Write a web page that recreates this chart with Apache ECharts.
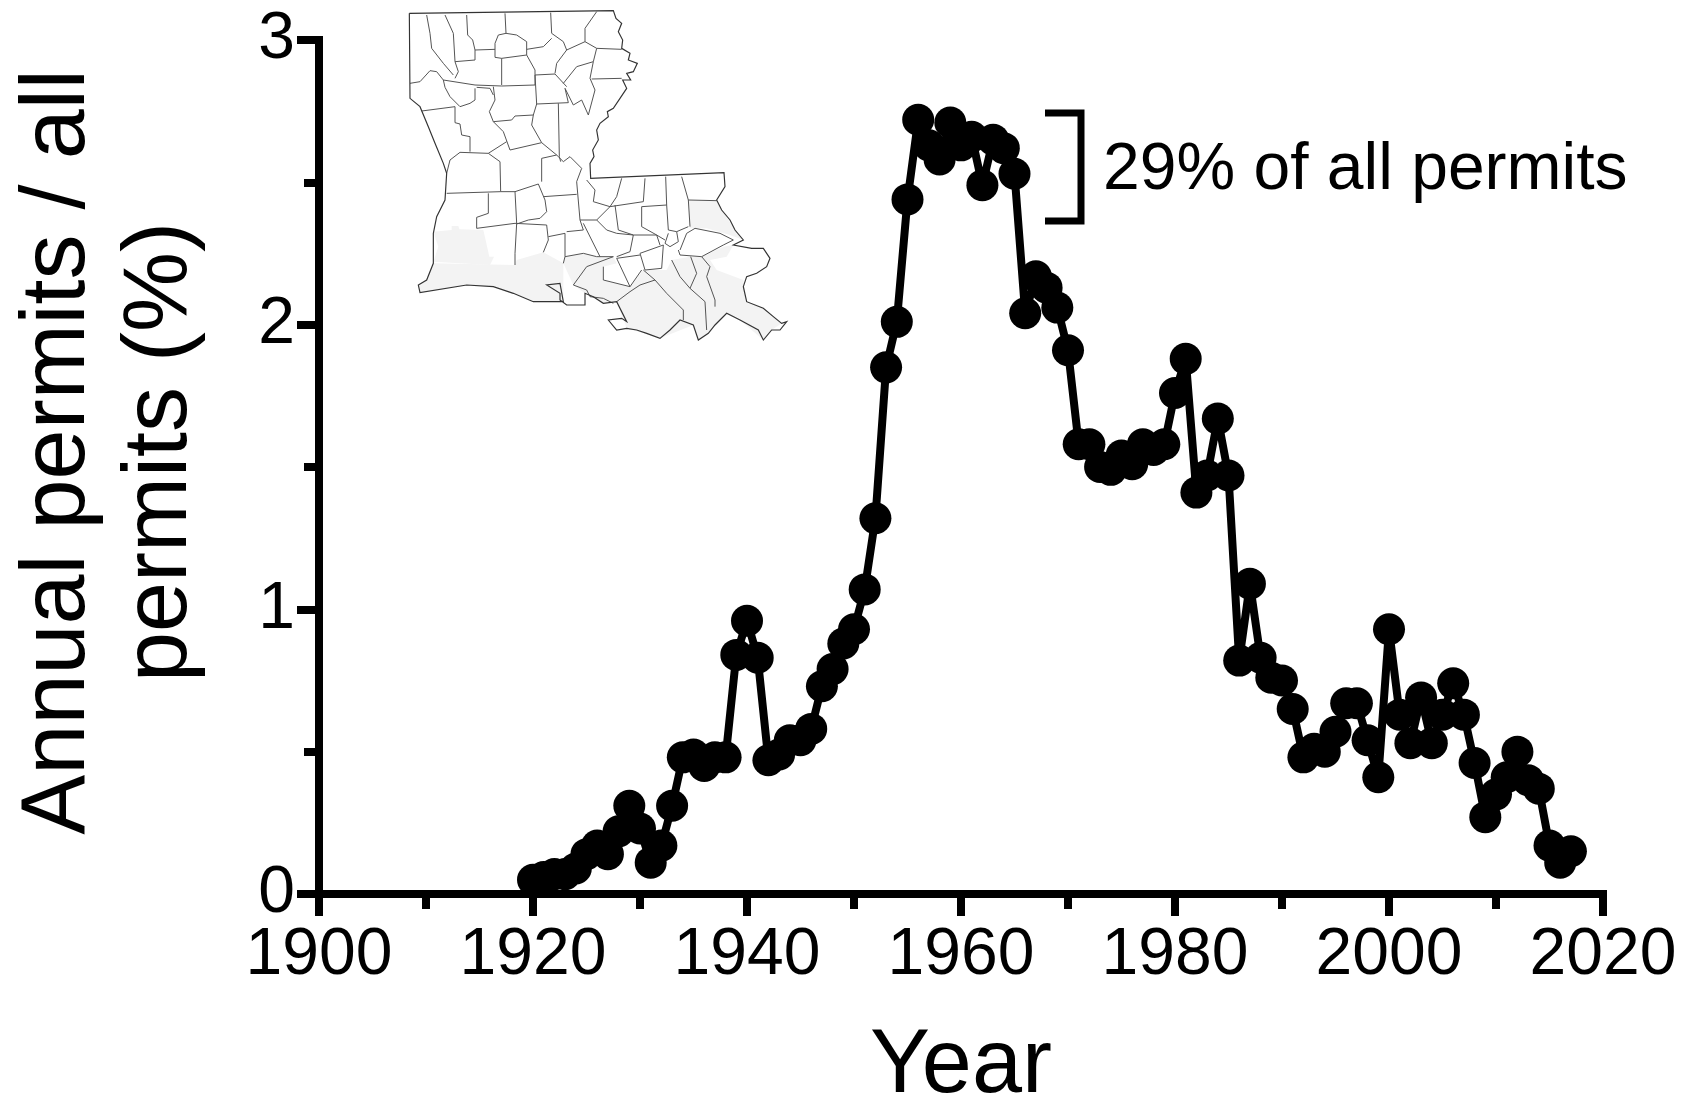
<!DOCTYPE html>
<html><head><meta charset="utf-8">
<style>html,body{margin:0;padding:0;background:#fff}#c{width:1696px;height:1100px;filter:blur(0.5px)}</style>
<script src="https://cdn.jsdelivr.net/npm/echarts@6/dist/echarts.min.js"></script>
</head><body><div id="c"></div>
<script>
const years = [];
for (let y = 1920; y <= 2017; y++) years.push(y);
const permits = [
  0.05,0.06,0.07,0.07,0.09,0.14,0.17,0.14,0.22,0.31,
  0.23,0.11,0.17,0.31,0.48,0.49,0.45,0.48,0.48,0.84,
  0.96,0.83,0.47,0.49,0.54,0.54,0.58,0.73,0.79,0.88,
  0.93,1.07,1.32,1.85,2.01,2.44,2.72,2.63,2.58,2.71,
  2.63,2.66,2.49,2.65,2.62,2.53,2.04,2.17,2.13,2.06,
  1.91,1.58,1.58,1.50,1.49,1.54,1.51,1.58,1.56,1.58,
  1.76,1.88,1.41,1.47,1.67,1.47,0.82,1.09,0.83,0.76,
  0.75,0.65,0.48,0.51,0.50,0.57,0.67,0.67,0.54,0.41,
  0.93,0.63,0.53,0.69,0.53,0.63,0.74,0.63,0.46,0.27,
  0.35,0.41,0.50,0.40,0.37,0.17,0.11,0.15];
const xTitle = 'Year';
const yTitle = 'Annual permits / all\npermits (%)';
const note = '29% of all permits';

// Inset map of Louisiana (traced outline, coastal parishes shaded)
const stateOutline = [[28,40],[640,32],[648,55],[665,70],[655,95],[668,120],[665,145],[690,160],[685,180],[712,190],[700,215],[680,220],[692,240],[668,240],[680,265],[660,295],[640,325],[622,335],[625,350],[600,370],[590,390],[595,420],[578,450],[582,470],[570,490],[572,535],[972,518],[975,560],[950,600],[965,630],[990,660],[1005,690],[1030,720],[1000,735],[1055,745],[1090,745],[1110,775],[1100,800],[1070,820],[1040,830],[1030,860],[1040,905],[1090,925],[1120,950],[1145,970],[1160,965],[1140,990],[1115,990],[1090,1020],[1075,990],[1020,960],[980,940],[945,975],[925,1000],[895,1020],[880,975],[840,960],[810,990],[780,1015],[740,1000],[710,990],[680,985],[650,990],[625,960],[665,955],[680,965],[650,905],[610,910],[580,890],[555,880],[555,915],[500,915],[480,900],[480,880],[440,855],[480,850],[490,905],[400,905],[340,880],[280,860],[200,855],[60,878],[55,855],[80,840],[100,790],[100,700],[110,650],[135,600],[140,520],[130,490],[105,430],[85,380],[60,320],[30,295],[28,40]];
const shadedParishes = [
  [[100,695],[155,690],[155,678],[175,678],[178,688],[250,690],[258,725],[268,770],[282,770],[270,795],[100,785],[115,740]],
  [[100,790],[345,795],[345,880],[280,860],[200,855],[60,878],[55,855],[80,840]],
  [[345,795],[350,780],[430,757],[490,790],[490,905],[400,905],[345,880]],
  [[490,790],[495,770],[550,760],[590,770],[640,770],[650,790],[610,800],[610,840],[690,860],[730,810],[800,810],[815,780],[870,770],[905,770],[970,740],[1000,735],[980,770],[930,780],[950,810],[1030,840],[1040,905],[1090,925],[1145,970],[1115,990],[1090,1020],[1020,960],[980,940],[925,1000],[895,1020],[880,975],[780,1015],[680,985],[650,905],[610,910],[555,880],[520,855]],
  [[865,600],[950,602],[965,630],[1005,690],[1030,720],[990,705],[920,685],[870,685]]
];
const parishLines = [
  [[80,45],[90,100],[95,145],[130,190],[160,225]],
  [[135,45],[160,100],[165,185],[175,215],[165,235]],
  [[200,45],[203,105],[218,120],[225,150],[225,180],[165,185]],
  [[225,150],[285,148]],
  [[315,40],[318,100],[295,105],[285,130],[285,172],[305,175],[380,165],[380,125],[350,105],[318,100]],
  [[305,175],[305,255]],
  [[380,165],[405,210],[405,255]],
  [[452,38],[455,100],[490,125],[500,150],[470,190],[465,220]],
  [[380,148],[430,140],[455,115]],
  [[405,225],[465,222],[500,260]],
  [[590,35],[555,85],[555,125],[590,145]],
  [[555,125],[500,150]],
  [[590,145],[665,148]],
  [[590,145],[580,185],[530,200],[490,250]],
  [[580,185],[570,235],[585,270],[565,345]],
  [[575,237],[665,235]],
  [[495,265],[520,315],[545,300],[565,345]],
  [[405,225],[410,312],[505,308],[495,265]],
  [[30,250],[60,245],[90,212],[110,215],[130,240],[225,255],[305,258],[405,255]],
  [[135,262],[150,290],[180,320],[210,310],[225,300],[225,265]],
  [[130,240],[135,262]],
  [[280,260],[285,300],[268,335],[280,365],[335,360],[345,348],[400,345],[410,312]],
  [[230,262],[270,265],[280,285]],
  [[65,333],[165,320],[165,368],[180,372],[185,405],[210,410],[210,455]],
  [[280,365],[310,395],[330,450],[425,428],[395,375],[400,345]],
  [[475,310],[478,470],[482,485]],
  [[425,428],[470,465],[425,475],[425,545]],
  [[320,425],[265,460],[180,457],[150,480],[140,520]],
  [[265,460],[300,485],[302,575],[140,580]],
  [[302,575],[345,575],[415,552],[435,600],[440,635],[420,655],[385,660],[350,672]],
  [[470,465],[490,485],[510,470],[545,505],[530,545],[540,660],[550,690],[500,695]],
  [[430,590],[530,583]],
  [[265,580],[265,640],[230,652],[230,685]],
  [[345,575],[350,670],[345,760],[345,795]],
  [[230,685],[345,670],[440,675],[445,720],[430,757]],
  [[445,710],[495,700],[495,770]],
  [[550,670],[590,750],[600,770]],
  [[540,660],[590,660],[630,620],[580,605],[585,570],[560,540]],
  [[590,660],[620,690],[650,700],[700,705],[690,755],[650,770]],
  [[665,535],[650,590],[630,620],[730,605],[735,535]],
  [[645,615],[655,690],[700,705],[770,705],[780,735]],
  [[725,620],[725,680],[770,705],[795,720]],
  [[725,620],[800,615],[797,530]],
  [[800,615],[805,690],[830,695],[865,680]],
  [[845,530],[865,600],[870,680]],
  [[865,600],[950,602]],
  [[830,695],[835,725],[810,740],[795,730],[805,700]],
  [[840,750],[860,700],[885,685],[960,700],[1000,720],[970,735],[905,770],[840,765],[835,750]],
  [[790,735],[720,760],[735,810],[785,805],[790,735]],
  [[720,765],[650,775],[690,860],[725,810]],
  [[610,800],[610,840],[690,860]],
  [[815,780],[840,830],[870,865],[890,820],[872,770]],
  [[870,865],[915,905],[920,990]],
  [[905,770],[930,800],[920,830],[945,900],[945,920]],
  [[730,810],[765,840],[720,855],[690,875],[650,905]],
  [[765,840],[800,880],[850,930],[850,960]],
  [[490,790],[495,770],[550,760],[590,770],[640,770],[560,800],[520,855],[560,870],[570,890],[610,895],[640,910]]
];

const FONT = '"Liberation Sans", Arial, sans-serif';
const chart = echarts.init(document.getElementById('c'), null, {renderer:'canvas'});
const mapChildren = [];
shadedParishes.forEach(p => mapChildren.push({type:'polygon', shape:{points:p}, style:{fill:'#f3f3f3', stroke:null}}));
parishLines.forEach(p => mapChildren.push({type:'polyline', shape:{points:p}, style:{stroke:'#555', lineWidth:3, fill:null}}));
mapChildren.push({type:'polyline', shape:{points:stateOutline}, style:{stroke:'#333', lineWidth:3.5, fill:null}});

chart.setOption({
  animation:false,
  backgroundColor:'#fff',
  grid:{left:319, right:93, top:40, bottom:206, containLabel:false, outerBoundsMode:'none'},
  xAxis:{
    type:'value', min:1900, max:2020, interval:20,
    name:xTitle, nameLocation:'middle', nameGap:128,
    nameTextStyle:{fontFamily:FONT, fontSize:90, color:'#000'},
    axisLine:{show:true, onZero:false, lineStyle:{color:'#000', width:8, cap:'square'}},
    axisTick:{show:true, length:22, lineStyle:{color:'#000', width:8}},
    minorTick:{show:true, splitNumber:2, length:15, lineStyle:{color:'#000', width:8}},
    splitLine:{show:false}, minorSplitLine:{show:false},
    axisLabel:{fontFamily:FONT, fontSize:66, color:'#000', margin:29, showMinLabel:true, showMaxLabel:true, formatter:v=>String(v)}
  },
  yAxis:{
    type:'value', min:0, max:3, interval:1,
    name:yTitle, nameLocation:'middle', nameGap:107, nameRotate:90,
    nameTextStyle:{fontFamily:FONT, fontSize:90, color:'#000', lineHeight:102, align:'center', padding:[0,0,0,30]},
    axisLine:{show:true, onZero:false, lineStyle:{color:'#000', width:8, cap:'square'}},
    axisTick:{show:true, length:22, lineStyle:{color:'#000', width:8}},
    minorTick:{show:true, splitNumber:2, length:15, lineStyle:{color:'#000', width:8}},
    splitLine:{show:false}, minorSplitLine:{show:false},
    axisLabel:{fontFamily:FONT, fontSize:66, color:'#000', margin:24, showMinLabel:true, showMaxLabel:true}
  },
  graphic:[
    {type:'group', x:400, y:0, scaleX:1/3, scaleY:1/3, children:mapChildren, silent:true, z:1},
    {type:'polyline', shape:{points:[[1045,113],[1081,113],[1081,221],[1045,221]]}, style:{stroke:'#000', lineWidth:7, fill:null}, z:5},
    {type:'text', x:1103, y:171, style:{text:note, font:'66px '+FONT, fill:'#000', textVerticalAlign:'middle', textBaseline:'middle'}, z:5}
  ],
  series:[{
    type:'line',
    data:years.map((y,i)=>[y,permits[i]]),
    clip:false, showSymbol:true, symbol:'circle', symbolSize:32,
    lineStyle:{color:'#000', width:8, join:'round'},
    itemStyle:{color:'#000'}, z:10
  }]
});
</script></body></html>
